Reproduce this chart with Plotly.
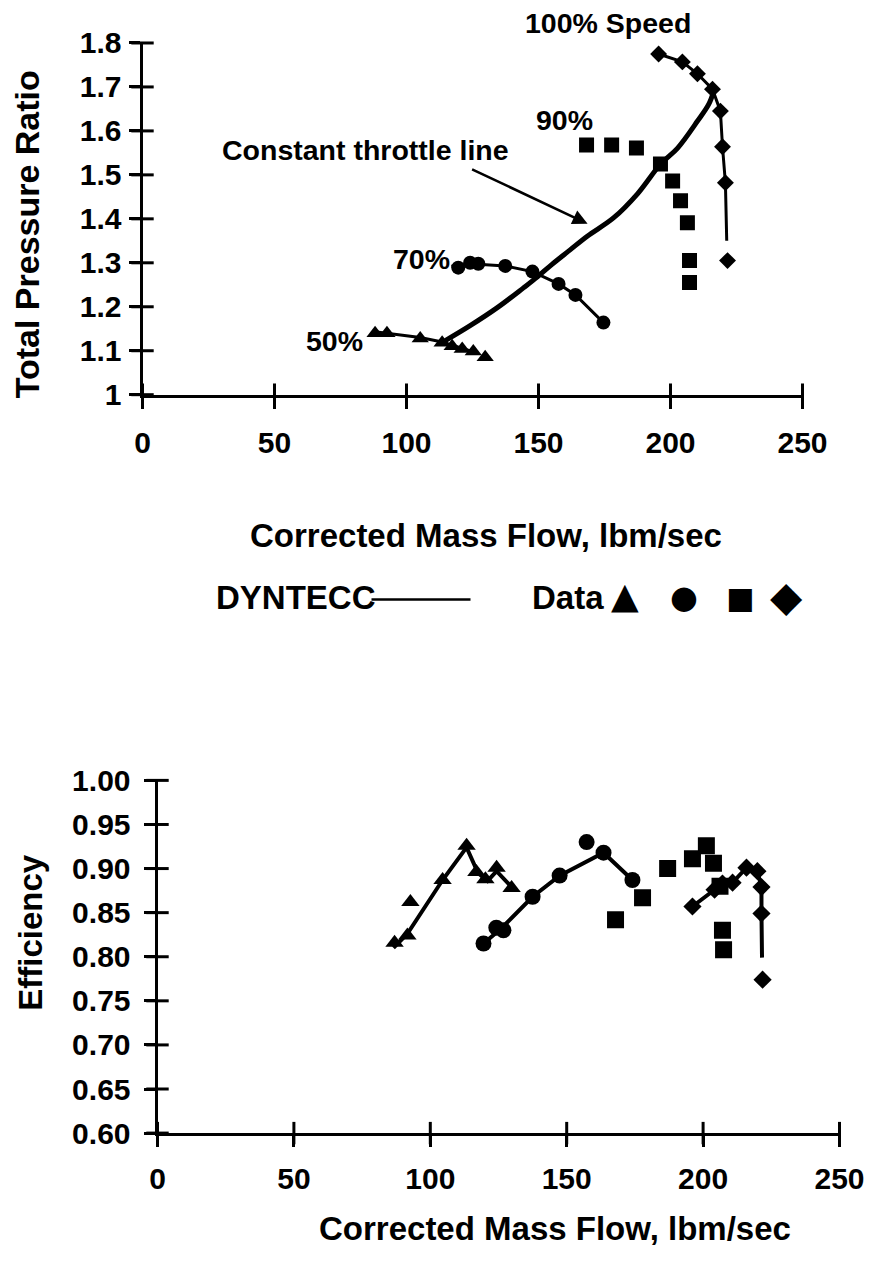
import plotly.graph_objects as go

FONT = "Liberation Sans, Arial, Helvetica, sans-serif"
SYM = "DejaVu Sans, sans-serif"

# ---------------- Top chart: total pressure ratio ----------------
# Data (symbols)
tri50_x = [88.1, 92.6, 105.2, 113.5, 117.3, 121.1, 125.3, 129.8]
tri50_y = [1.140, 1.140, 1.128, 1.118, 1.110, 1.104, 1.098, 1.085]
cir70_x = [119.6, 124.1, 127.2, 137.4, 147.7, 157.6, 164.0, 174.6]
cir70_y = [1.289, 1.300, 1.298, 1.293, 1.280, 1.252, 1.227, 1.164]
sq90_x = [168.2, 177.7, 187.1, 196.2, 200.8, 203.8, 206.4, 207.2, 207.2]
sq90_y = [1.568, 1.568, 1.561, 1.525, 1.486, 1.441, 1.391, 1.305, 1.255]
dia100_x = [195.5, 204.5, 210.2, 215.9, 218.9, 219.7, 220.8, 221.6]
dia100_y = [1.775, 1.757, 1.730, 1.695, 1.645, 1.564, 1.482, 1.305]

# DYNTECC lines
dyn50_x = [88.0, 105.2, 113.5, 121.1, 126.0]
dyn50_y = [1.143, 1.130, 1.120, 1.106, 1.096]
dyn70_x = [117.0, 124.1, 137.4, 147.7, 157.6, 164.0, 174.6]
dyn70_y = [1.292, 1.298, 1.293, 1.280, 1.252, 1.227, 1.164]
dyn100_x = [195.5, 204.5, 210.2, 215.9, 218.9, 219.7, 220.8, 221.3]
dyn100_y = [1.775, 1.757, 1.730, 1.695, 1.645, 1.564, 1.482, 1.350]
throttle_x = [114.7, 124.1, 134.4, 144.3, 149.6, 155.0, 162.1, 168.6,
              178.4, 187.5, 196.3, 202.7, 210.3, 214.5, 216.4]
throttle_y = [1.123, 1.157, 1.198, 1.243, 1.268, 1.296, 1.330, 1.361,
              1.402, 1.457, 1.525, 1.561, 1.623, 1.661, 1.691]

x_range = [0, 250]
x_ticks = [0, 50, 100, 150, 200, 250]
pr_range = [1.0, 1.8]
pr_ticks = [1.0, 1.1, 1.2, 1.3, 1.4, 1.5, 1.6, 1.7, 1.8]
pr_labels = ["1", "1.1", "1.2", "1.3", "1.4", "1.5", "1.6", "1.7", "1.8"]

# ---------------- Bottom chart: efficiency ----------------
tri50e_x = [86.9, 91.6, 92.7, 104.5, 113.3, 116.9, 120.2, 124.3, 129.8]
tri50e_y = [0.816, 0.824, 0.862, 0.887, 0.926, 0.896, 0.888, 0.901, 0.878]
cir70e_x = [119.5, 124.2, 126.8, 137.5, 147.4, 157.3, 163.5, 174.1]
cir70e_y = [0.815, 0.833, 0.830, 0.868, 0.892, 0.930, 0.918, 0.887]
sq90e_x = [167.9, 177.8, 187.0, 196.1, 201.2, 203.8, 206.2, 207.1, 207.5]
sq90e_y = [0.842, 0.867, 0.900, 0.911, 0.926, 0.906, 0.880, 0.830, 0.808]
dia100e_x = [196.1, 204.2, 207.1, 210.8, 215.9, 219.9, 221.4, 221.4, 221.8]
dia100e_y = [0.857, 0.876, 0.883, 0.884, 0.901, 0.897, 0.879, 0.849, 0.774]

dyn50e_x = [86.5, 91.6, 104.5, 113.3, 117.5, 121.0, 124.3, 129.5]
dyn50e_y = [0.810, 0.826, 0.887, 0.924, 0.895, 0.886, 0.897, 0.880]
dyn70e_x = [119.5, 126.0, 137.5, 147.4, 163.5, 174.1]
dyn70e_y = [0.815, 0.832, 0.868, 0.892, 0.918, 0.887]
dyn100e_x = [196.1, 204.2, 210.8, 215.9, 219.9, 221.4, 221.4, 221.6]
dyn100e_y = [0.857, 0.876, 0.884, 0.901, 0.897, 0.879, 0.849, 0.799]

eff_range = [0.6, 1.0]
eff_ticks = [0.60, 0.65, 0.70, 0.75, 0.80, 0.85, 0.90, 0.95, 1.00]

# ---------------- page geometry ----------------
W, H = 873, 1268
# the plotting area of the page ends up about 840 x 1235 px at (8.5, 16)
FW, FH, OX, OY = 840, 1235, 8.5, 16


def fx(px):
    return (px - OX) / FW


def fy(py):
    return 1 - (py - OY) / FH


fig = go.Figure()
TOP = dict(xaxis="x", yaxis="y")
BOT = dict(xaxis="x2", yaxis="y2")


def line(x, y, w, ax, shape="linear"):
    fig.add_trace(go.Scatter(x=x, y=y, mode="lines", showlegend=False, hoverinfo="skip",
                             line=dict(color="black", width=w, shape=shape), **ax))


def marks(x, y, sym, size, ax):
    fig.add_trace(go.Scatter(x=x, y=y, mode="markers", showlegend=False,
                             marker=dict(symbol=sym, size=size, color="black",
                                         line=dict(width=0)), **ax))


def cross_ticks(xr, yr, xt, yt, ax):
    # tick marks that cross the axis line (drawn at the tick values)
    fig.add_trace(go.Scatter(x=xt, y=[yr[0]] * len(xt), mode="markers", showlegend=False,
                             hoverinfo="skip", cliponaxis=False,
                             marker=dict(symbol="line-ns", size=16,
                                         line=dict(width=3, color="black")), **ax))
    fig.add_trace(go.Scatter(x=[xr[0]] * len(yt), y=yt, mode="markers", showlegend=False,
                             hoverinfo="skip", cliponaxis=False,
                             marker=dict(symbol="line-ew", size=16,
                                         line=dict(width=3, color="black")), **ax))


# top
line(throttle_x, throttle_y, 5, TOP, "spline")
line(dyn50_x, dyn50_y, 3, TOP)
line(dyn70_x, dyn70_y, 3, TOP)
line(dyn100_x, dyn100_y, 3, TOP)
marks(tri50_x, tri50_y, "triangle-up", 15, TOP)
marks(cir70_x, cir70_y, "circle", 14, TOP)
marks(sq90_x, sq90_y, "square", 15, TOP)
marks(dia100_x, dia100_y, "diamond", 13, TOP)
cross_ticks(x_range, pr_range, x_ticks, pr_ticks, TOP)

# bottom
line(dyn50e_x, dyn50e_y, 4, BOT)
line(dyn70e_x, dyn70e_y, 4, BOT)
line(dyn100e_x, dyn100e_y, 4, BOT)
marks(tri50e_x, tri50e_y, "triangle-up", 16, BOT)
marks(cir70e_x, cir70e_y, "circle", 16, BOT)
marks(sq90e_x, sq90e_y, "square", 17, BOT)
marks(dia100e_x, dia100e_y, "diamond", 14, BOT)
cross_ticks(x_range, eff_range, x_ticks, eff_ticks, BOT)

TICKFONT = dict(family=FONT, size=30, color="black", weight="bold")

common = dict(showline=True, linewidth=3, linecolor="black", ticks="outside",
              ticklen=11, tickwidth=3, tickcolor="black", showgrid=False,
              zeroline=False, tickfont=TICKFONT)

fig.update_layout(
    width=W, height=H, autosize=False, margin=dict(l=0, r=0, t=0, b=0),
    paper_bgcolor="white", plot_bgcolor="white", showlegend=False,
    font=dict(family=FONT, color="black", weight="bold"),
    xaxis=dict(domain=[fx(143), fx(803)], range=x_range, anchor="y", tickvals=x_ticks,
               ticklabelstandoff=8, **common),
    yaxis=dict(domain=[fy(394), fy(42)], range=pr_range, anchor="x", tickvals=pr_ticks,
               ticktext=pr_labels, ticklabelstandoff=1, **common),
    xaxis2=dict(domain=[fx(158), fx(840)], range=x_range, anchor="y2", tickvals=x_ticks,
                ticklabelstandoff=6, **common),
    yaxis2=dict(domain=[fy(1133), fy(780)], range=eff_range, anchor="x2",
                tickvals=eff_ticks, tickformat=".2f", ticklabelstandoff=7, **common),
)

TITLE = dict(family=FONT, size=33, color="black", weight="bold")
LAB = dict(family=FONT, size=28.5, color="black", weight="bold")


def paper_text(text, xp, yp, font, xanchor="center", textangle=0):
    fig.add_annotation(text=text, x=fx(xp), y=fy(yp), xref="paper", yref="paper",
                       showarrow=False, font=font, xanchor=xanchor, yanchor="middle",
                       textangle=textangle)


# axis titles
paper_text("Total Pressure Ratio", 27, 234, dict(TITLE, size=34), textangle=-90)
paper_text("Corrected Mass Flow, lbm/sec", 486, 535, TITLE)
paper_text("Efficiency", 31, 932, TITLE, textangle=-90)
paper_text("Corrected Mass Flow, lbm/sec", 555, 1228, TITLE)

# chart labels (top)
paper_text("100% Speed", 608, 22, LAB)
paper_text("90%", 565, 119, LAB)
paper_text("Constant throttle line", 366, 149, LAB)
paper_text("70%", 422, 258, LAB)
paper_text("50%", 335, 340, LAB)

# arrow pointing to the constant throttle line
fig.add_annotation(x=168.6, y=1.389, xref="x", yref="y", text="", showarrow=True,
                   ax=-117, ay=-55, arrowhead=2, arrowsize=1.2, arrowwidth=2.5,
                   arrowcolor="black")

# legend row
paper_text("DYNTECC", 214, 597, TITLE, xanchor="left")
fig.add_shape(type="line", xref="paper", yref="paper", x0=fx(372), x1=fx(471),
              y0=fy(599), y1=fy(599), line=dict(color="black", width=2.5))
paper_text("Data", 530, 597, TITLE, xanchor="left")
paper_text("▲", 625, 595, dict(family=SYM, size=36, color="black"))
paper_text("●", 684, 596, dict(family=SYM, size=32, color="black"))
paper_text("■", 740, 597, dict(family=SYM, size=30, color="black"))
paper_text("◆", 787, 596, dict(family=SYM, size=42, color="black"))

fig.write_html("out.html")
